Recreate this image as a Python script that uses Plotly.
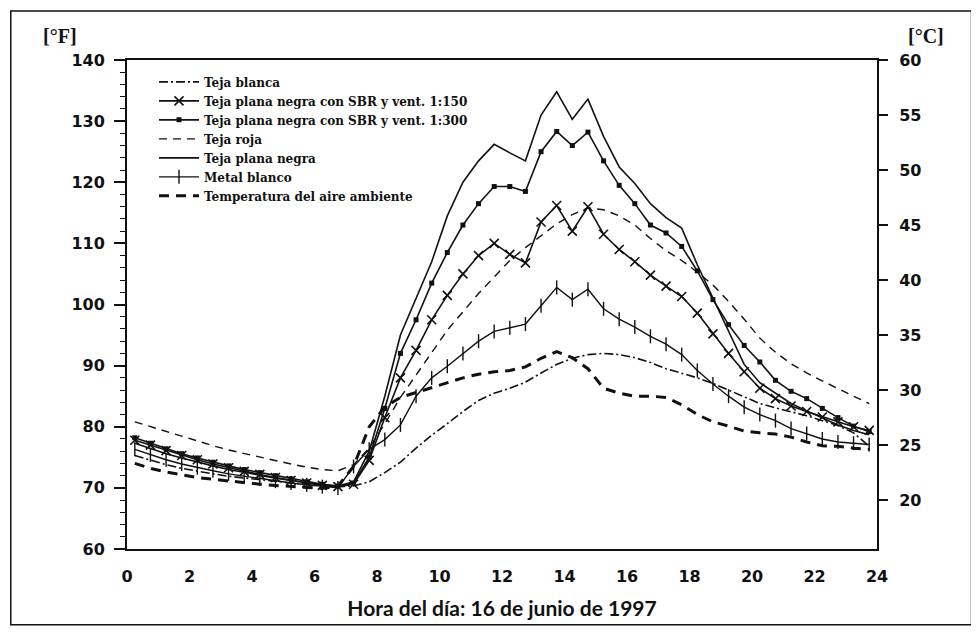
import plotly.graph_objects as go

hours = [0.25, 0.75, 1.25, 1.75, 2.25, 2.75, 3.25, 3.75, 4.25, 4.75, 5.25, 5.75,
         6.25, 6.75, 7.25, 7.75, 8.25, 8.75, 9.25, 9.75, 10.25, 10.75, 11.25, 11.75,
         12.25, 12.75, 13.25, 13.75, 14.25, 14.75, 15.25, 15.75, 16.25, 16.75, 17.25, 17.75,
         18.25, 18.75, 19.25, 19.75, 20.25, 20.75, 21.25, 21.75, 22.25, 22.75, 23.25, 23.75]

teja_blanca = [75.3, 74.5, 73.8, 73.2, 72.7, 72.3, 71.9, 71.6, 71.3, 71.0, 70.8, 70.6,
               70.4, 70.2, 70.3, 71.0, 72.5, 74.2, 76.5, 78.6, 80.5, 82.5, 84.3, 85.5,
               86.3, 87.3, 88.8, 90.2, 91.2, 91.8, 92.0, 91.8, 91.3, 90.5, 89.5, 88.8,
               88.0, 87.1, 86.0, 84.8, 83.8, 83.1, 82.5, 81.8, 81.0, 80.2, 79.0, 76.8]

sbr_150 = [77.8, 77.0, 76.1, 75.3, 74.6, 73.9, 73.3, 72.7, 72.2, 71.7, 71.2, 70.8,
           70.4, 70.2, 70.6, 74.5, 81.5, 88.0, 92.5, 97.5, 101.5, 105.0, 108.0, 110.0,
           108.2, 106.8, 113.5, 116.2, 112.0, 116.0, 111.5, 109.0, 107.0, 104.8, 103.0, 101.3,
           98.6, 95.2, 92.0, 89.0, 86.3, 84.6, 83.4, 82.5, 81.6, 80.8, 80.0, 79.4]

sbr_300 = [78.2, 77.3, 76.4, 75.6, 74.9, 74.2, 73.6, 73.0, 72.5, 72.0, 71.5, 71.0,
           70.6, 70.3, 70.8, 75.0, 83.0, 92.0, 97.5, 103.5, 108.5, 113.0, 116.5, 119.3,
           119.3, 118.5, 125.0, 128.3, 126.0, 128.2, 123.5, 119.5, 116.5, 113.0, 111.7, 109.5,
           105.5, 100.8, 96.7, 93.3, 90.6, 87.6, 85.8, 84.6, 83.0, 81.5, 80.1, 79.2]

teja_roja = [80.8, 80.0, 79.2, 78.4, 77.6, 76.9, 76.2, 75.6, 75.0, 74.4, 73.9, 73.4,
             73.0, 72.8, 73.8, 76.5, 80.5, 84.8, 88.5, 92.2, 95.8, 98.8, 101.8, 104.5,
             107.2, 109.3, 111.2, 113.2, 114.7, 115.8, 115.5, 114.5, 113.0, 110.8, 108.8, 107.2,
             105.3, 103.2, 100.5, 97.6, 94.5, 92.2, 90.3, 88.8, 87.5, 86.2, 85.0, 83.8]

plana_negra = [77.3, 76.4, 75.6, 74.9, 74.2, 73.6, 73.0, 72.5, 72.0, 71.6, 71.2, 70.8,
               70.5, 70.3, 71.0, 76.0, 85.0, 95.0, 101.0, 107.0, 114.5, 120.0, 123.5, 126.2,
               124.8, 123.5, 131.0, 134.8, 130.3, 133.6, 127.5, 122.5, 119.8, 116.5, 114.2, 112.5,
               106.5, 101.0, 95.5, 90.2, 87.2, 85.5, 83.8, 82.6, 81.4, 80.3, 79.4, 78.7]

metal_blanco = [76.3, 75.4, 74.6, 73.9, 73.3, 72.8, 72.3, 71.9, 71.5, 71.1, 70.8, 70.5,
                70.2, 70.0, 73.5, 76.3, 77.9, 80.3, 85.0, 88.0, 89.9, 92.0, 94.0, 95.6,
                96.2, 96.8, 99.8, 102.8, 100.8, 102.5, 99.3, 97.6, 96.3, 94.8, 93.5, 91.8,
                89.2, 87.0, 85.0, 83.2, 82.0, 81.0, 79.7, 78.9, 78.0, 77.5, 77.3, 77.1]

aire = [74.0, 73.2, 72.6, 72.1, 71.7, 71.4, 71.1, 70.8, 70.6, 70.4, 70.2, 70.0,
        69.9, 70.3, 73.5, 80.0, 83.2, 84.8, 85.6, 86.4, 87.2, 88.0, 88.6, 89.0,
        89.2, 89.8, 91.2, 92.3, 91.3, 89.5, 86.3, 85.5, 85.0, 85.0, 84.8, 83.6,
        82.0, 80.8, 80.1, 79.3, 79.0, 78.8, 78.3, 77.5, 76.9, 76.8, 76.5, 76.3]

x_ticks = [0, 2, 4, 6, 8, 10, 12, 14, 16, 18, 20, 22, 24]
f_ticks = [60, 70, 80, 90, 100, 110, 120, 130, 140]
c_ticks = [20, 25, 30, 35, 40, 45, 50, 55, 60]

BLACK = "#111111"
fig = go.Figure()

fig.add_trace(go.Scatter(x=hours, y=teja_blanca, name="Teja blanca", mode="lines",
                         line=dict(color=BLACK, width=1.6, dash="9px,3px,2px,3px")))
fig.add_trace(go.Scatter(x=hours, y=sbr_150, name="Teja plana negra con SBR y vent. 1:150",
                         mode="lines+markers", line=dict(color=BLACK, width=1.6),
                         marker=dict(symbol="x-thin-open", size=9, line=dict(color=BLACK, width=1.6))))
fig.add_trace(go.Scatter(x=hours, y=sbr_300, name="Teja plana negra con SBR y vent. 1:300",
                         mode="lines+markers", line=dict(color=BLACK, width=1.6),
                         marker=dict(symbol="square", size=5, color=BLACK)))
fig.add_trace(go.Scatter(x=hours, y=teja_roja, name="Teja roja", mode="lines",
                         line=dict(color=BLACK, width=1.4, dash="8px,6px")))
fig.add_trace(go.Scatter(x=hours, y=plana_negra, name="Teja plana negra", mode="lines",
                         line=dict(color=BLACK, width=1.6)))
fig.add_trace(go.Scatter(x=hours, y=metal_blanco, name="Metal blanco", mode="lines+markers",
                         line=dict(color=BLACK, width=1.4),
                         marker=dict(symbol="line-ns-open", size=10, line=dict(color=BLACK, width=1.4))))
fig.add_trace(go.Scatter(x=hours, y=aire, name="Temperatura del aire ambiente", mode="lines",
                         line=dict(color=BLACK, width=3, dash="10px,7px")))

# invisible trace for the right (°C) axis
fig.add_trace(go.Scatter(x=[hours[0]], y=[(aire[0] - 32) / 1.8], yaxis="y2", mode="markers",
                         marker=dict(opacity=0), showlegend=False, hoverinfo="skip"))

tick_font = dict(family="DejaVu Sans", size=16, color=BLACK, weight="bold")

# the page adds an 8px body margin, margins compensate for it
fig.update_layout(
    width=979, height=633,
    paper_bgcolor="white", plot_bgcolor="white",
    margin=dict(l=119, r=110, t=52, b=92),
    showlegend=True,
    legend=dict(x=0.036, y=0.985, xanchor="left", yanchor="top",
                bgcolor="rgba(0,0,0,0)", borderwidth=0,
                font=dict(family="DejaVu Serif", size=12, color=BLACK, weight="bold"),
                tracegroupgap=0, itemwidth=40),
    xaxis=dict(range=[0, 24], tickvals=x_ticks, ticktext=[str(v) for v in x_ticks],
               showgrid=False, zeroline=False, showline=True, linecolor=BLACK, linewidth=2,
               mirror=True, ticks="", tickfont=tick_font, ticklabelstandoff=12,
               title=dict(text="Hora del día: 16 de junio de 1997",
                          font=dict(family="Lato", size=21, color=BLACK, weight="bold"),
                          standoff=16)),
    yaxis=dict(range=[60, 140], tickvals=f_ticks, ticktext=[str(v) for v in f_ticks],
               showgrid=False, zeroline=False, showline=True, linecolor=BLACK, linewidth=2,
               ticks="outside", ticklen=11, tickwidth=1.5, tickcolor=BLACK,
               minor=dict(dtick=2, ticks="outside", ticklen=5, tickwidth=1, tickcolor=BLACK),
               tickfont=tick_font, ticklabelstandoff=6),
    yaxis2=dict(range=[(60 - 32) / 1.8, (140 - 32) / 1.8], overlaying="y", side="right",
                tickvals=c_ticks, ticktext=[str(v) for v in c_ticks],
                showgrid=False, zeroline=False, showline=True, linecolor=BLACK, linewidth=2,
                ticks="outside", ticklen=9, tickwidth=1.5, tickcolor=BLACK,
                tickfont=tick_font, ticklabelstandoff=8),
)

fig.add_annotation(text="[°F]", xref="paper", yref="paper", x=-0.09, y=1.05,
                   xanchor="center", yanchor="middle", showarrow=False,
                   font=dict(family="Liberation Serif", size=20, color=BLACK, weight="bold"))
fig.add_annotation(text="[°C]", xref="paper", yref="paper", x=1.065, y=1.05,
                   xanchor="center", yanchor="middle", showarrow=False,
                   font=dict(family="Liberation Serif", size=20, color=BLACK, weight="bold"))

# outer frame (kept inside the visible page area)
fig.add_shape(type="rect", xref="paper", yref="paper",
              x0=-0.155, x1=1.126, y0=-0.155, y1=1.100,
              line=dict(color=BLACK, width=1.5), fillcolor="rgba(0,0,0,0)", layer="below")

fig.write_html("out.html")
